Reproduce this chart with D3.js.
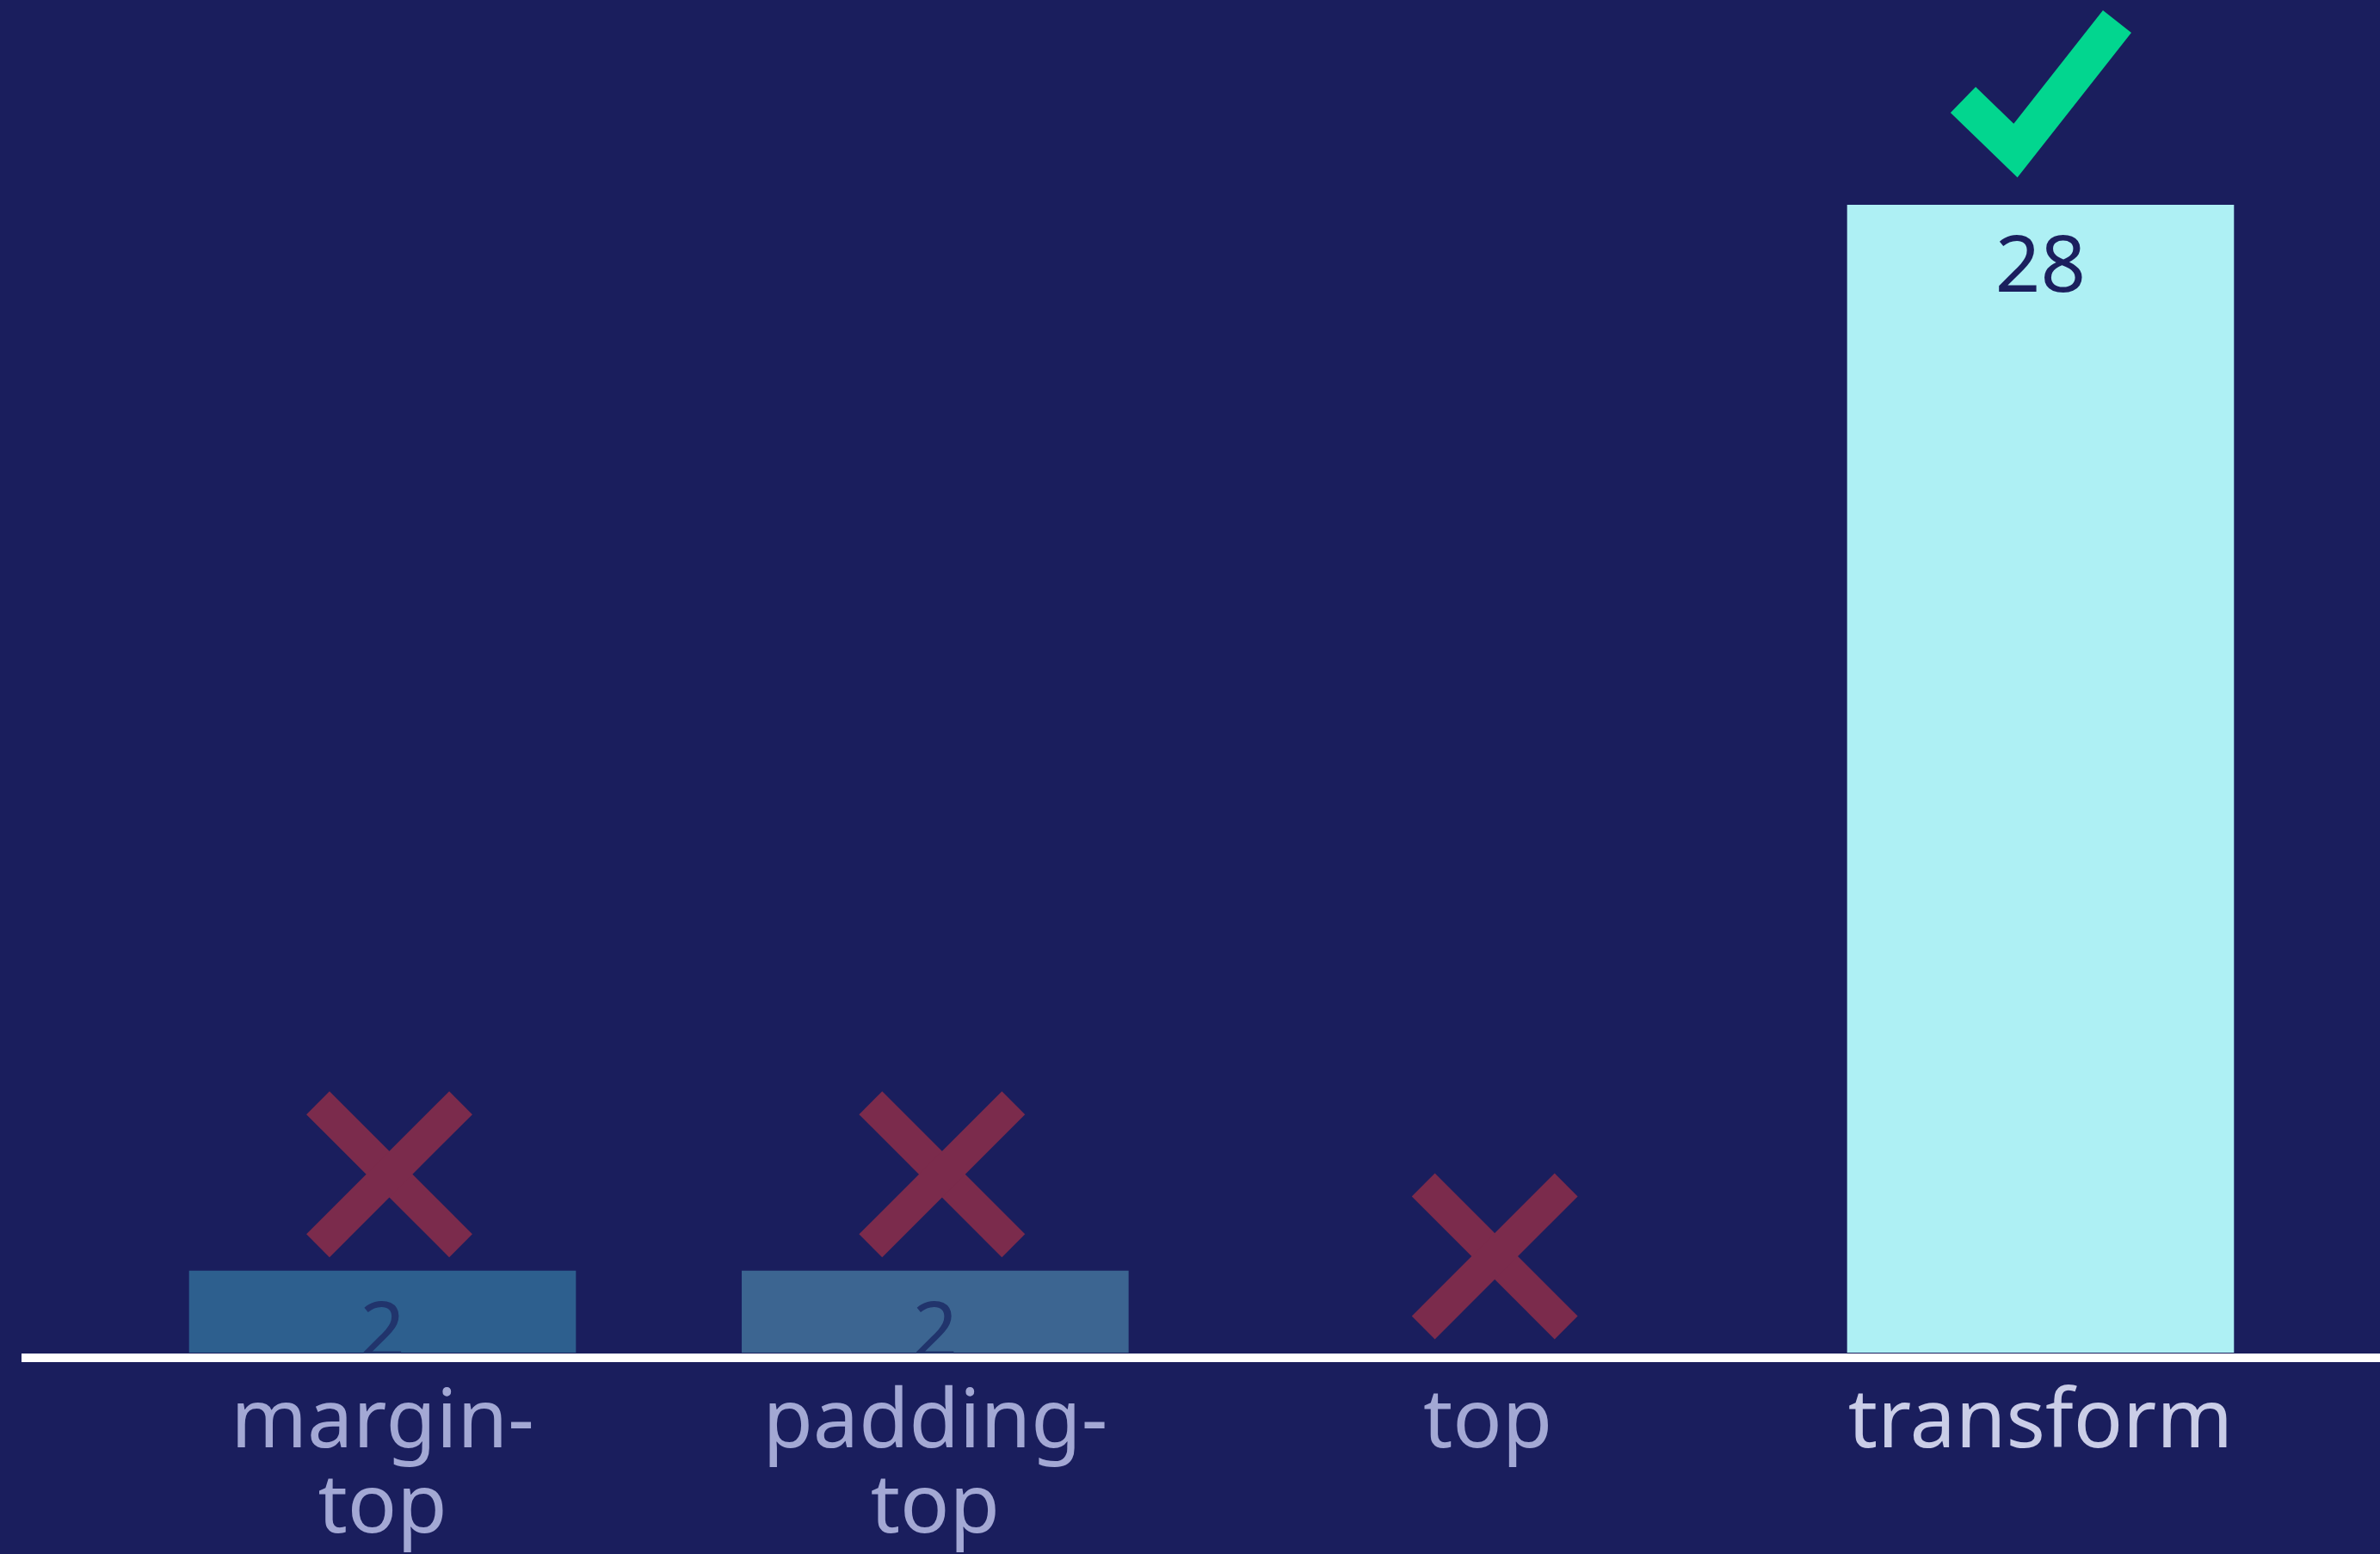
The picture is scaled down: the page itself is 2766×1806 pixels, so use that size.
<!DOCTYPE html>
<html>
<head>
<meta charset="utf-8">
<script src="https://cdn.jsdelivr.net/npm/d3@7"></script>
<style>
  html, body { margin: 0; padding: 0; background: #1a1e5d; overflow: hidden; }
  svg { display: block; }
</style>
</head>
<body>
<svg id="chart" width="2766" height="1806"></svg>
<script>
// CSS properties compared, with how many cases each one handled
const categories = ["margin-top", "padding-top", "top", "transform"];
const values = [2, 2, 0, 28];
const verdicts = ["wrong", "wrong", "wrong", "right"];
const barColors = ["#2d5f8e", "#3c6591", "#3c6591", "#aef0f4"];
const valueColors = ["#21346c", "#21346c", "#21346c", "#1b1f5e"];
const labelColors = ["#a3a8d4", "#a3a8d4", "#a3a8d4", "#cacde7"];

const W = 2766, H = 1806;
const FONT = "'Noto Sans', 'Open Sans', sans-serif";

const svg = d3.select("#chart");
svg.append("rect").attr("width", W).attr("height", H).attr("fill", "#1a1e5d");

const x = d3.scaleBand()
  .domain(categories)
  .range([27, 2789])
  .paddingInner(0.3)
  .paddingOuter(0.3);

const y = d3.scaleLinear()
  .domain([0, d3.max(values)])
  .range([1572, 238]);

const rows = categories.map((c, i) => ({
  cat: c, value: values[i], verdict: verdicts[i],
  bar: barColors[i], valueColor: valueColors[i], labelColor: labelColors[i]
}));

// bars
svg.append("g").selectAll("rect")
  .data(rows.filter(d => d.value > 0))
  .join("rect")
  .attr("x", d => x(d.cat))
  .attr("y", d => y(d.value))
  .attr("width", x.bandwidth())
  .attr("height", d => y(0) - y(d.value))
  .attr("fill", d => d.bar);

// value labels inside the top of each bar
svg.append("g").selectAll("text")
  .data(rows.filter(d => d.value > 0))
  .join("text")
  .attr("x", d => x(d.cat) + x.bandwidth() / 2)
  .attr("y", d => y(d.value) + 101)
  .attr("text-anchor", "middle")
  .attr("font-family", FONT)
  .attr("font-size", 92)
  .attr("fill", d => d.valueColor)
  .text(d => d.value);

// verdict icons above each bar
const icons = svg.append("g");
rows.forEach(d => {
  const cx = x(d.cat) + x.bandwidth() / 2;
  const top = y(d.value);
  if (d.verdict === "right") {
    icons.append("path")
      .attr("d", `M${cx - 90},${top - 122} L${cx - 29},${top - 63} L${cx + 89},${top - 213}`)
      .attr("fill", "none")
      .attr("stroke", "#02d68f")
      .attr("stroke-width", 42)
      .attr("stroke-linejoin", "miter")
      .attr("stroke-linecap", "butt");
  } else {
    const mx = cx + 8, my = top - 112, a = 83;
    const g = icons.append("g")
      .attr("stroke", "#7b2b4c")
      .attr("stroke-width", 38)
      .attr("stroke-linecap", "butt");
    g.append("line").attr("x1", mx - a).attr("y1", my - a).attr("x2", mx + a).attr("y2", my + a);
    g.append("line").attr("x1", mx + a).attr("y1", my - a).attr("x2", mx - a).attr("y2", my + a);
  }
});

// baseline
svg.append("line")
  .attr("x1", 25).attr("x2", W)
  .attr("y1", y(0) + 6).attr("y2", y(0) + 6)
  .attr("stroke", "#ffffff")
  .attr("stroke-width", 10);

// category axis, hyphenated names wrap after the hyphen
const axis = svg.append("g")
  .attr("transform", `translate(0,${y(0)})`)
  .call(d3.axisBottom(x).tickSize(0).tickPadding(0));
axis.select(".domain").remove();
axis.selectAll(".tick text")
  .attr("font-family", FONT)
  .attr("font-size", 95)
  .attr("dy", null)
  .attr("y", 110)
  .attr("fill", (c) => labelColors[categories.indexOf(c)])
  .each(function (c) {
    const parts = c.includes("-") ? [c.slice(0, c.indexOf("-") + 1), c.slice(c.indexOf("-") + 1)] : [c];
    const t = d3.select(this).text(null);
    parts.forEach((p, i) => {
      t.append("tspan").attr("x", 0).attr("dy", i === 0 ? 0 : 99).text(p);
    });
  });
</script>
</body>
</html>
